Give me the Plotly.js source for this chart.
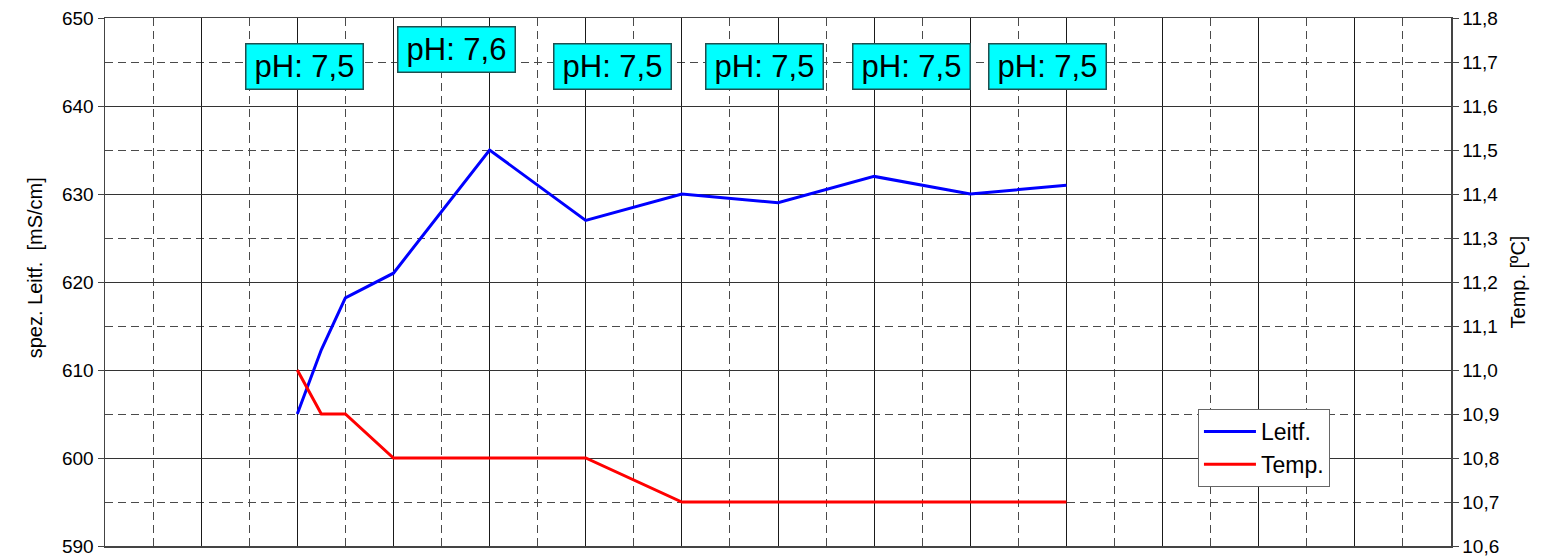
<!DOCTYPE html>
<html>
<head>
<meta charset="utf-8">
<script src="https://cdn.plot.ly/plotly-3.0.1.min.js"></script>
<style>
  html, body { margin: 0; padding: 0; background: #fff; }
  #chart { width: 1557px; height: 558px; }
</style>
</head>
<body>
<div id="chart"></div>
<script>
(function () {
  "use strict";

  // --- Data ---
  // Measurement positions along the (unlabelled) x axis
  const xPos = [2, 2.25, 2.5, 3, 4, 5, 6, 7, 8, 9, 10];
  // Specific conductivity [mS/cm]
  const leitf = [605, 612.3, 618.2, 621, 635, 627, 630, 629, 632, 630, 631];
  // Temperature [°C]
  const temp = [11.0, 10.9, 10.9, 10.8, 10.8, 10.8, 10.7, 10.7, 10.7, 10.7, 10.7];

  // pH labels and where their boxes sit
  const phLabels = ["pH: 7,5", "pH: 7,6", "pH: 7,5", "pH: 7,5", "pH: 7,5", "pH: 7,5"];
  const phX = [2.075, 3.656, 5.279, 6.86, 8.39, 9.8];
  const phY = [644.5, 646.4, 644.5, 644.5, 644.5, 644.5];

  const FONT = "Arial, 'Liberation Sans', sans-serif";

  const traces = [
    {
      x: xPos, y: leitf, name: "Leitf.", mode: "lines",
      line: { color: "#0000ff", width: 3 }, yaxis: "y"
    },
    {
      x: xPos, y: temp, name: "Temp.", mode: "lines",
      line: { color: "#ff0000", width: 3 }, yaxis: "y2"
    }
  ];

  const annotations = phLabels.map((t, i) => ({
    x: phX[i], y: phY[i], xref: "x", yref: "y",
    text: t, showarrow: false,
    font: { family: FONT, size: 31, color: "#000" },
    bgcolor: "#00ffff", bordercolor: "#1f4f4f", borderwidth: 1.5,
    width: 116, height: 44, borderpad: 0
  }));

  // left axis title placed by hand so it sits a bit above centre as in the reference
  annotations.push({
    xref: "paper", yref: "paper", x: -0.0523, y: 0.527,
    xanchor: "center", yanchor: "middle", textangle: -90,
    text: "spez. Leitf.  [mS/cm]", showarrow: false,
    font: { family: FONT, size: 20, color: "#000" }
  });

  const layout = {
    width: 1557, height: 558,
    margin: { l: 105, r: 106, t: 18, b: 12 },
    paper_bgcolor: "#fff", plot_bgcolor: "#fff",
    separators: ",.",
    font: { family: FONT, size: 19, color: "#000" },
    showlegend: true,
    legend: {
      x: 0.812, y: 0.2595, xanchor: "left", yanchor: "top",
      bgcolor: "#fff", bordercolor: "#666", borderwidth: 1,
      itemwidth: 52, tracegroupgap: 0,
      font: { family: FONT, size: 23, color: "#000" }
    },
    xaxis: {
      range: [0, 14], dtick: 1, tick0: 0,
      showticklabels: false, ticks: "",
      showgrid: true, gridcolor: "#1a1a1a", gridwidth: 1,
      minor: { dtick: 0.5, showgrid: true, gridcolor: "#4a4a4a", griddash: "8px,5px", gridwidth: 1 },
      showline: true, linecolor: "#444", linewidth: 1.5, mirror: true,
      zeroline: false, fixedrange: true
    },
    yaxis: {
      range: [590, 650], dtick: 10, tick0: 590,
      ticks: "outside", ticklen: 6, tickcolor: "#444",
      showgrid: true, gridcolor: "#333", gridwidth: 1,
      minor: { dtick: 5, showgrid: true, gridcolor: "#4a4a4a", griddash: "8px,5px", gridwidth: 1 },
      showline: true, linecolor: "#444", linewidth: 1.5,
      zeroline: false,
      tickfont: { family: FONT, size: 19 }
    },
    yaxis2: {
      overlaying: "y", side: "right",
      range: [10.6, 11.8], dtick: 0.1, tick0: 10.6, tickformat: ".1f",
      ticks: "outside", ticklen: 6, tickcolor: "#444",
      showgrid: false, zeroline: false,
      showline: true, linecolor: "#444", linewidth: 1.5,
      tickfont: { family: FONT, size: 19 },
      title: { text: "Temp. [ºC]", font: { family: FONT, size: 20 }, standoff: 12 }
    },
    annotations: annotations
  };

  Plotly.newPlot("chart", traces, layout, { displayModeBar: false, staticPlot: true });
})();
</script>
</body>
</html>
